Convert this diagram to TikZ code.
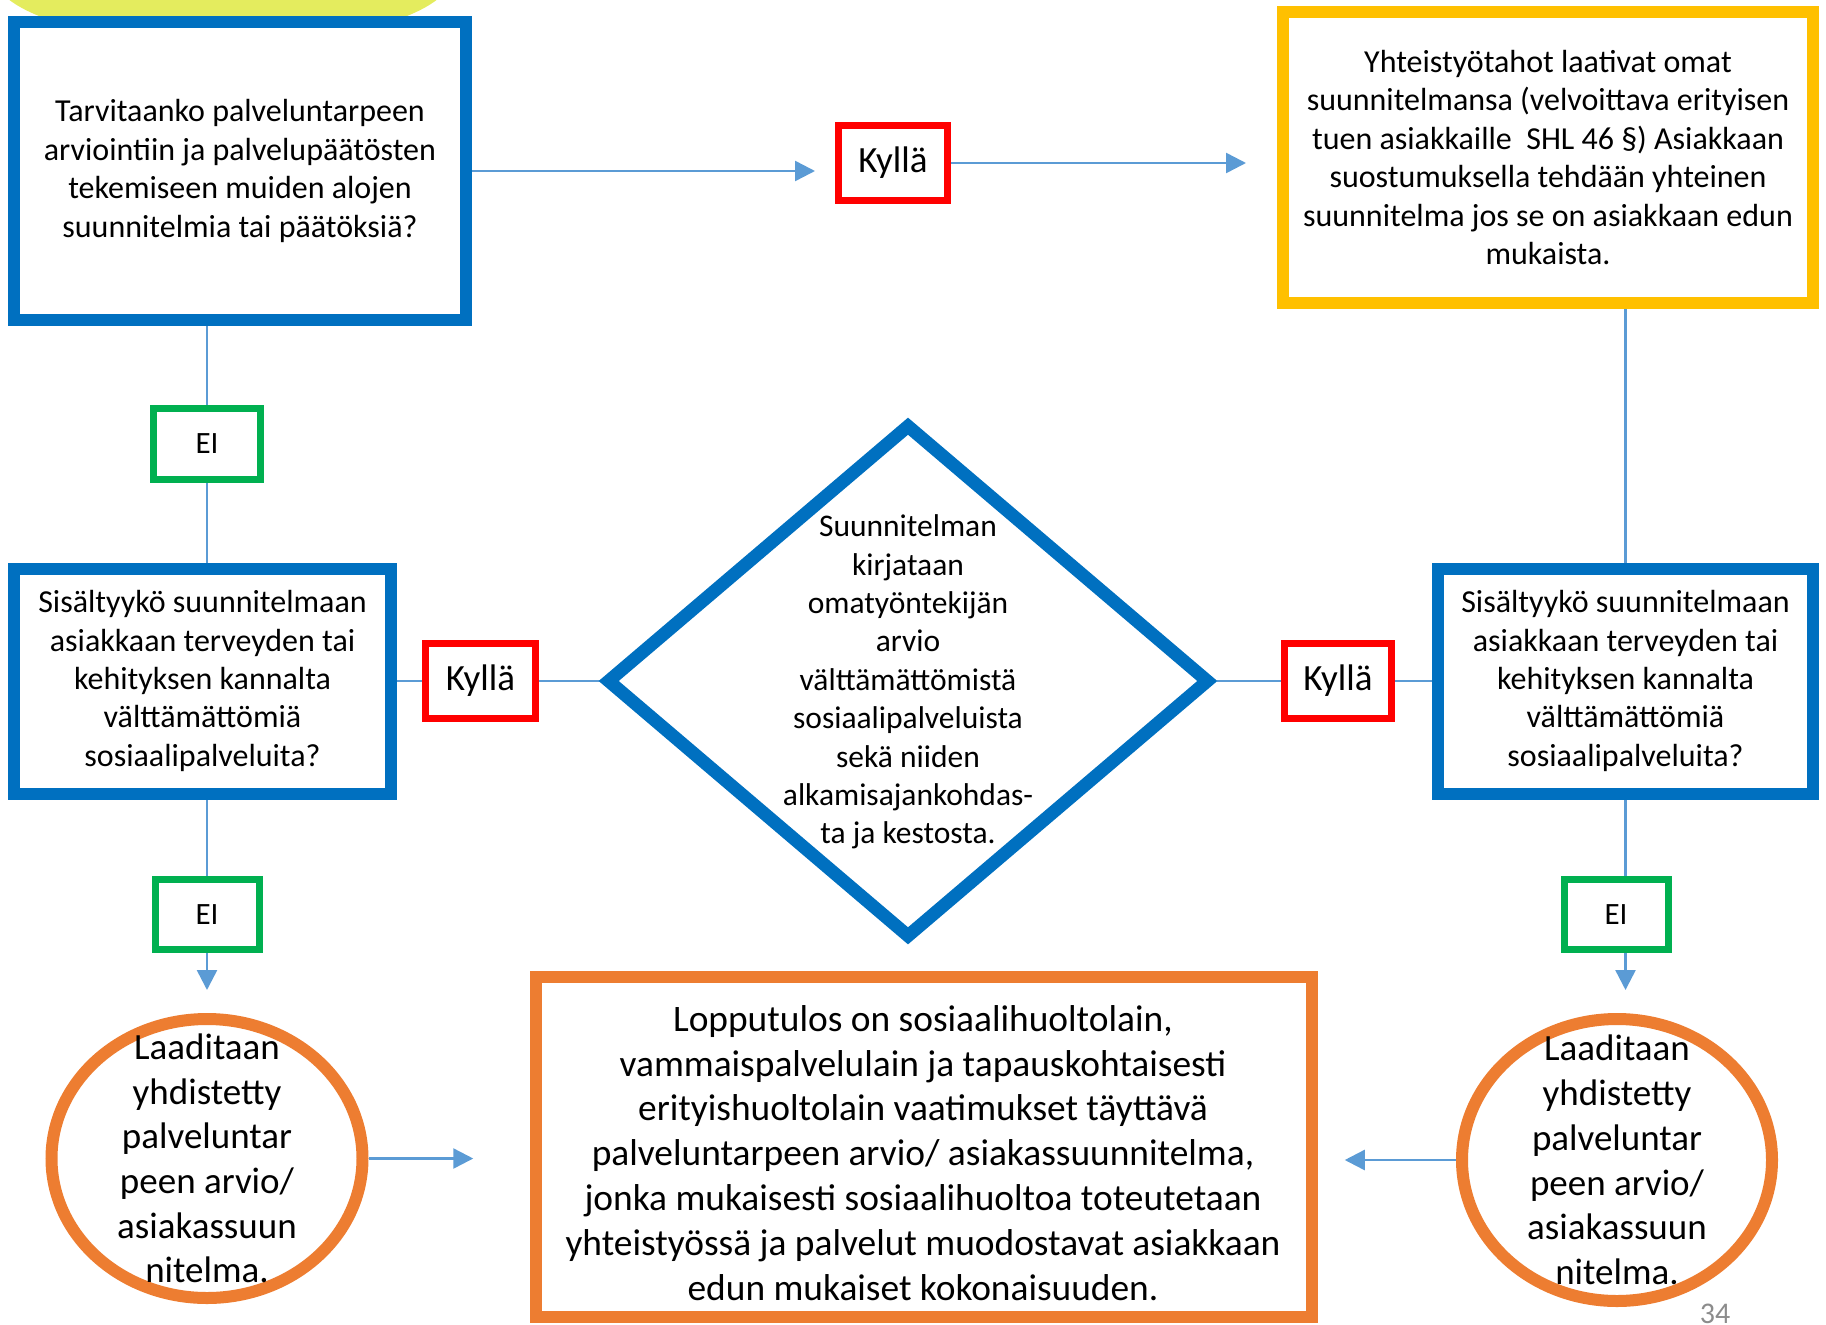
\documentclass[tikz,border=0pt]{standalone}
\usepackage{fontspec}
\setmainfont{Carlito}
\usetikzlibrary{shapes.geometric,arrows.meta,backgrounds}

\definecolor{askblue}{RGB}{0,112,192}
\definecolor{teamgold}{RGB}{255,192,0}
\definecolor{yesred}{RGB}{255,0,0}
\definecolor{nogreen}{RGB}{0,176,80}
\definecolor{planorange}{RGB}{237,125,49}
\definecolor{linkblue}{RGB}{91,155,213}
\definecolor{blobyellow}{RGB}{228,236,94}

\begin{document}
\begin{tikzpicture}[x=1pt,y=-1pt,
        main node/.style={draw, fill=white, inner sep=0pt, align=center,
        font=\fontsize{32}{38.4}\selectfont},
        ask node/.style={main node, draw=askblue, line width=12pt},
        yes node/.style={main node, draw=yesred, line width=7pt,
        font=\fontsize{37}{44}\selectfont},
        no node/.style={main node, draw=nogreen, line width=7pt,
        font=\fontsize{31}{38}\selectfont},
        plan node/.style={main node, ellipse, draw=planorange, line width=12pt},
        plan text/.style={align=center, inner sep=0pt, font=\fontsize{37}{44.7}\selectfont},
        link/.style={draw, color=linkblue, line width=2.5pt},
        arr/.style={-{Triangle[length=20pt,width=20pt]}}
        ]

        \useasboundingbox (0,0) rectangle (1826,1325);

        \node [ask node, minimum width=452pt, minimum height=298pt] (q1) at (240,171)
        {Tarvitaanko palveluntarpeen\\arviointiin ja palvelupäätösten\\tekemiseen muiden alojen\\suunnitelmia tai päätöksiä?} ;
        \node [yes node, minimum width=109pt, minimum height=75pt] (k1) at (893,163) {Kyllä} ;
        \node [main node, draw=teamgold, line width=12pt, minimum width=530pt, minimum height=291pt] (y1) at (1548,157.5)
        {Yhteistyötahot laativat omat\\suunnitelmansa (velvoittava erityisen\\tuen asiakkaille\ \ SHL 46 §) Asiakkaan\\suostumuksella tehdään yhteinen\\suunnitelma jos se on asiakkaan edun\\mukaista.} ;
        \node [no node, minimum width=107pt, minimum height=71pt] (ei1) at (207,444) {EI} ;

        \node [ask node, minimum width=377pt, minimum height=225pt] (q2) at (202.5,681)
        {Sisältyykö suunnitelmaan\\asiakkaan terveyden tai\\kehityksen kannalta\\välttämättömiä\\sosiaalipalveluita?} ;
        \node [yes node, minimum width=110pt, minimum height=75pt] (k2) at (480.5,681) {Kyllä} ;
        \node [main node, diamond, draw=askblue, line width=13pt, minimum width=604pt, minimum height=515pt] (d) at (908,681) {} ;
        \node [align=center, inner sep=0pt, font=\fontsize{31.5}{38.4}\selectfont] (dtext) at (908,682)
        {Suunnitelman\\kirjataan\\omatyöntekijän\\arvio\\välttämättömistä\\sosiaalipalveluista\\sekä niiden\\alkamisajankohdas-\\ta ja kestosta.} ;
        \node [yes node, minimum width=107pt, minimum height=75pt] (k3) at (1338,681) {Kyllä} ;
        \node [ask node, minimum width=375pt, minimum height=225pt] (q3) at (1625.5,681)
        {Sisältyykö suunnitelmaan\\asiakkaan terveyden tai\\kehityksen kannalta\\välttämättömiä\\sosiaalipalveluita?} ;

        \node [no node, minimum width=104pt, minimum height=70pt] (ei2) at (207,914.5) {EI} ;
        \node [no node, minimum width=104pt, minimum height=70pt] (ei3) at (1616,914.5) {EI} ;

        \node [plan node, minimum width=311pt, minimum height=279pt] (c1) at (207,1158.5) {} ;
        \node [plan text] (c1text) at (c1) {Laaditaan\\yhdistetty\\palveluntar\\peen arvio/\\asiakassuun\\nitelma.} ;
        \node [plan node, minimum width=310pt, minimum height=282pt] (c2) at (1617,1160) {} ;
        \node [plan text] (c2text) at (c2) {Laaditaan\\yhdistetty\\palveluntar\\peen arvio/\\asiakassuun\\nitelma.} ;

        \node [main node, draw=planorange, line width=11.5pt, minimum width=776pt, minimum height=340pt] (r) at (924,1147) {} ;
        \node [align=center, inner sep=0pt, font=\fontsize{37.4}{44.9}\selectfont] (rtext) at (923,1153)
        {Lopputulos on sosiaalihuoltolain,\\vammaispalvelulain ja tapauskohtaisesti\\erityishuoltolain vaatimukset täyttävä\\palveluntarpeen arvio/ asiakassuunnitelma,\\jonka mukaisesti sosiaalihuoltoa toteutetaan\\yhteistyössä ja palvelut muodostavat asiakkaan\\edun mukaiset kokonaisuuden.} ;

        \node [inner sep=0pt, text=black!45, font=\fontsize{30}{36}\selectfont] (page) at (1715,1314) {34} ;

        \begin{scope}[on background layer]
        \begin{scope}
        \clip (0,0) rectangle (1826,1325);
        \fill [blobyellow] (223,-26) ellipse [x radius=230, y radius=70];
        \end{scope}

        \path[link]
        (q1.east) edge [arr, shorten >=20pt] (q1.east -| k1.west)
        (k1.east) edge [arr, shorten >=31pt] (k1.east -| y1.west)
        (q1.south -| ei1) edge (ei1.north)
        (ei1.south) edge (ei1.south |- q2.north)
        (q2.east) edge (k2.west)
        (k2.east) edge (d.west)
        (d.east) edge (k3.west)
        (k3.east) edge (q3.west)
        (y1.south -| q3) edge (q3.north)
        (q3.south) edge (q3.south |- ei3.north)
        (ei3.south -| q3) edge [arr, shorten >=23pt] (q3 |- c2.north)
        (q2.south -| ei2) edge (ei2.north)
        (ei2.south) edge [arr, shorten >=23pt] (c1.north)
        (c1.east) edge [arr, shorten >=57pt] (c1.east -| r.west)
        (c2.west) edge [arr, shorten >=27pt] (c2.west -| r.east)
        ;
        \end{scope}
     \end{tikzpicture}
\end{document}
